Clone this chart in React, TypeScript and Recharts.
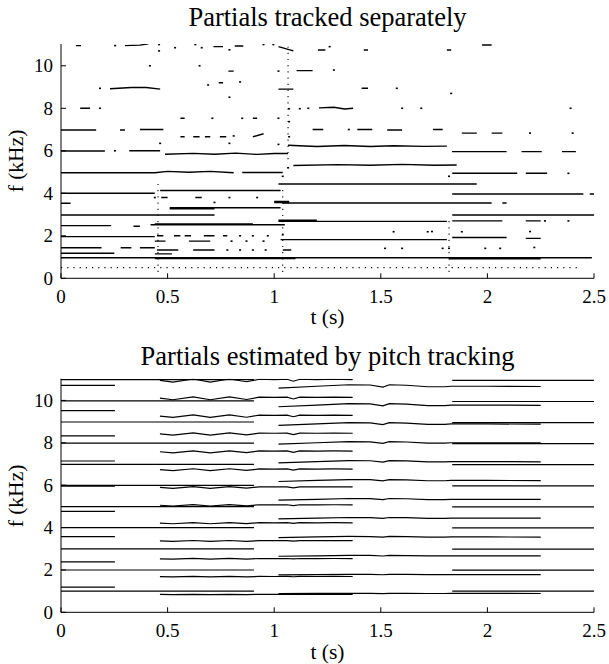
import React from 'react';
import { ComposedChart, Line, Scatter, XAxis, YAxis } from 'recharts';

const timeTicks = [0, 0.5, 1, 1.5, 2, 2.5];
const freqTicks = [0, 2, 4, 6, 8, 10];
const freqMax = 11.025;

// ---- upper panel: partials tracked one by one ----
// flat pieces: [t start (s), t end (s), f (kHz)]
const topFlat: number[][] = [
  [0.07, 0.094, 10.95], [0.715, 0.76, 10.9], [0.815, 0.855, 10.93], [1.205, 1.24, 10.74],
  [1.42, 1.44, 10.74], [1.81, 1.83, 10.74], [1.975, 2.02, 10.98],
  [0.785, 0.81, 9.75], [1.105, 1.18, 9.77], [0.74, 0.76, 9.2], [1.02, 1.09, 8.9], [1.41, 1.44, 8.94],
  [0.09, 0.136, 8.0], [0.56, 0.58, 7.53], [0.9, 0.92, 7.53],
  [0, 0.165, 6.98], [0.277, 0.3, 6.98], [0.37, 0.48, 7.0], [1.18, 1.23, 7.0], [1.39, 1.46, 7.0],
  [1.53, 1.6, 6.98], [1.745, 1.79, 7.0], [1.88, 1.95, 6.83], [2.02, 2.07, 6.83],
  [0.56, 0.58, 6.66], [0.62, 0.65, 6.66], [0.675, 0.7, 6.66], [0.745, 0.775, 6.66],
  [0, 0.206, 5.99], [0.32, 0.465, 6.0], [1.834, 2.09, 5.96], [2.16, 2.255, 5.96], [2.35, 2.415, 5.96],
  [0.85, 1.04, 4.98], [1.835, 2.14, 4.94], [2.18, 2.28, 4.94], [1.02, 1.95, 4.44],
  [0, 0.44, 4.0], [0.465, 1.03, 4.13], [1.835, 2.45, 3.97], [2.48, 2.5, 3.97],
  [0, 0.045, 3.53], [0.47, 0.5, 3.8], [0.63, 0.66, 3.8], [1.0, 1.07, 3.57], [1.0, 1.07, 3.62],
  [1.04, 2.02, 3.54], [2.07, 2.09, 3.54], [0.51, 1.03, 3.32], [0.51, 0.72, 3.27],
  [0, 0.72, 2.98], [1.835, 2.5, 2.98],
  [0, 0.235, 2.48], [0.34, 0.37, 2.45], [0.42, 1.05, 2.52], [0.44, 0.9, 2.56],
  [1.02, 1.81, 2.68], [1.02, 1.2, 2.73], [1.835, 2.07, 2.7], [2.18, 2.25, 2.7],
  [0, 0.44, 1.96], [0.45, 0.48, 2.0], [0.53, 0.56, 2.0], [0.58, 0.61, 2.0], [0.67, 0.72, 2.0], [0.76, 0.78, 2.0],
  [1.835, 2.09, 1.92], [2.18, 2.25, 1.88], [1.03, 1.81, 1.82], [0.44, 0.49, 1.75], [0.6, 0.7, 1.75],
  [0, 0.19, 1.44], [0.28, 0.33, 1.44], [0.37, 0.44, 1.44],
  [0.45, 0.55, 1.33], [0.62, 0.72, 1.33], [1.04, 1.08, 1.33],
  [0, 0.25, 1.18], [0.44, 0.52, 1.15],
  [0, 2.49, 0.97], [0.44, 1.1, 0.93], [1.82, 2.25, 0.92],
];

// pieces that bend: lists of [t, f]
const topCurves: number[][][] = [
  [[0.3, 10.95], [0.37, 10.97], [0.41, 11.03]],
  [[1.02, 10.9], [1.09, 10.7]],
  [[0.23, 8.92], [0.33, 8.98], [0.4, 8.98], [0.465, 8.9]],
  [[1.21, 8.02], [1.28, 8.05], [1.33, 7.97], [1.37, 8.0]],
  [[0.9, 6.66], [0.95, 6.8]],
  [[0.488, 5.84], [0.62, 5.88], [0.72, 5.84], [0.82, 5.89], [0.92, 5.83], [1.0, 5.87], [1.065, 5.87]],
  [[1.065, 6.26], [1.2, 6.2], [1.33, 6.25], [1.45, 6.2], [1.56, 6.24], [1.7, 6.21], [1.81, 6.22]],
  [[1.09, 5.31], [1.3, 5.35], [1.45, 5.32], [1.6, 5.36], [1.75, 5.32], [1.856, 5.33]],
  [[0, 4.97], [0.44, 4.97], [0.5, 5.03], [0.6, 4.99], [0.7, 5.03], [0.81, 4.97]],
];

// single-frame detections: [t, f]
const topDots: number[][] = [
  [0.254, 10.95], [0.46, 11.0], [0.46, 10.7], [0.535, 10.85], [0.63, 11.0], [0.66, 10.85],
  [0.79, 10.75], [0.95, 11.0], [0.996, 11.0], [1.26, 10.9],
  [0.417, 10.0], [0.65, 10.0], [1.02, 9.75], [1.28, 9.8],
  [0.183, 8.94], [0.69, 9.1], [0.84, 9.24], [0.79, 8.52], [1.575, 8.94], [1.83, 8.7],
  [0.183, 8.0], [1.07, 7.98], [1.12, 7.98], [1.16, 8.0], [1.6, 8.0], [1.69, 8.0], [2.39, 8.0],
  [0.71, 7.53], [0.85, 7.53], [1.02, 7.53], [1.07, 7.37], [1.35, 7.0], [2.2, 6.83], [2.4, 6.83],
  [0.81, 6.7], [1.07, 6.66], [0.465, 6.35], [0.79, 6.35], [1.02, 6.3], [0.253, 6.0], [1.065, 5.2],
  [2.38, 4.94], [1.82, 4.8], [1.04, 4.8], [0.72, 3.57], [0.79, 3.8], [0.92, 3.8], [0.44, 3.8],
  [1.56, 2.19], [1.72, 2.19], [1.74, 2.2], [1.88, 2.19], [2.27, 2.7], [2.38, 2.7], [2.2, 2.2],
  [0.84, 2.0], [0.9, 2.0], [0.97, 2.0], [1.04, 2.05], [0.8, 1.75], [0.87, 1.75], [0.95, 1.75],
  [0.78, 1.33], [0.84, 1.33], [0.9, 1.33], [0.96, 1.33],
  [1.52, 1.41], [1.6, 1.41], [1.79, 1.41], [1.82, 1.41], [1.99, 1.41], [2.06, 1.41], [2.22, 1.45],
];

// rows / columns of dots: [t0, f0, t1, f1]
const topDotted: number[][] = [
  [0, 0.5, 2.42, 0.5],
  [1.065, 5.6, 1.065, 10.9],
  [0.455, 0.3, 0.455, 4.6],
  [1.04, 0.3, 1.04, 4.3],
  [1.82, 0.3, 1.82, 2.8],
];

// ---- lower panel: pitch tracks (f0 in kHz) and number of harmonics drawn ----
const aTimes = [0, 0.905];
const aPitch = [0.998, 0.998];
const aCount = 11;

const a2Times = [0, 0.253];
const a2Pitch = [1.19, 1.19];
const a2Count = 9;

const bTimes = [0.464, 0.525, 0.62, 0.7, 0.79, 0.87, 0.93, 1.0, 1.06, 1.09, 1.12, 1.2, 1.28, 1.368];
const bPitch = [0.842, 0.836, 0.847, 0.836, 0.847, 0.837, 0.846, 0.845, 0.846, 0.839, 0.846, 0.845, 0.846, 0.845];
const bCount = 13;

const dTimes = [1.02, 1.2, 1.35, 1.45, 1.51, 1.54, 1.62, 1.72, 1.8, 1.83, 2.0, 2.25];
const dPitch = [0.882, 0.889, 0.895, 0.894, 0.886, 0.895, 0.893, 0.887, 0.887, 0.889, 0.889, 0.888];
const dCount = 12;

const eTimes = [1.835, 2.5];
const ePitch = [0.995, 0.995];
const eCount = 11;

type Pt = { t: number; f: number };
type Piece = { pts: Pt[]; dash?: string };

const topPieces: Piece[] = [
  ...topFlat.map(([t0, t1, f]) => ({ pts: [{ t: t0, f }, { t: t1, f }] })),
  ...topCurves.map((c) => ({ pts: c.map(([t, f]) => ({ t, f })) })),
  ...topDotted.map(([t0, f0, t1, f1]) => ({ pts: [{ t: t0, f: f0 }, { t: t1, f: f1 }], dash: '1.2 5' })),
];

const tracks = [
  { times: aTimes, pitch: aPitch, count: aCount },
  { times: a2Times, pitch: a2Pitch, count: a2Count },
  { times: bTimes, pitch: bPitch, count: bCount },
  { times: dTimes, pitch: dPitch, count: dCount },
  { times: eTimes, pitch: ePitch, count: eCount },
];

const bottomPieces: Piece[] = [];
tracks.forEach((tr) => {
  for (let k = 1; k <= tr.count; k++) {
    bottomPieces.push({ pts: tr.times.map((t, i) => ({ t, f: tr.pitch[i] * k })) });
  }
});

const dotPts: Pt[] = topDots.map(([t, f]) => ({ t, f }));

const FONT = '"Liberation Serif", "Times New Roman", serif';
const W = 609;
const H = 332;

// tick text drawn by hand so the serif face is kept
const TimeTick = (props: any) => (
  <text x={props.x} y={props.y} dy="0.71em" textAnchor="middle" fontFamily={FONT} fontSize={19} fill="#000">
    {props.payload.value}
  </text>
);
const FreqTick = (props: any) => (
  <text x={props.x} y={props.y} dy="0.34em" textAnchor="end" fontFamily={FONT} fontSize={19} fill="#000">
    {props.payload.value}
  </text>
);

interface PanelProps {
  top: number;
  title: string;
  titleBase: number;
  labelBase: number;
  plotTop: number;
  plotBottom: number;
  pieces: Piece[];
  dots?: Pt[];
  width: number;
}

const Panel: React.FC<PanelProps> = ({ top, title, titleBase, labelBase, plotTop, plotBottom, pieces, dots, width }) => {
  const xAxisH = 30;
  const yMid = (plotTop + plotBottom) / 2;
  return (
    <div style={{ position: 'absolute', left: 0, top, width: W, height: H }}>
      <div style={{ position: 'absolute', left: 0, width: 655, top: titleBase - 0.84 * 26.5, fontSize: 26.5, lineHeight: 1, textAlign: 'center', whiteSpace: 'nowrap' }}>
        {title}
      </div>
      <div style={{ position: 'absolute', left: 0, width: 655, top: labelBase - 0.84 * 21.5, fontSize: 21.5, lineHeight: 1, textAlign: 'center' }}>
        t (s)
      </div>
      <div style={{ position: 'absolute', left: 17, top: yMid, fontSize: 21.5, lineHeight: 1, whiteSpace: 'nowrap', transform: 'translate(-50%, -50%) rotate(-90deg)' }}>
        f (kHz)
      </div>
      <div style={{ position: 'absolute', left: 0, top: 0 }}>
        <ComposedChart
          width={W}
          height={H}
          margin={{ top: plotTop, right: 15, left: 11, bottom: H - plotBottom - xAxisH }}
        >
          <XAxis
            type="number"
            dataKey="t"
            domain={[0, 2.5]}
            ticks={timeTicks}
            allowDataOverflow
            height={xAxisH}
            tickSize={-5}
            tickMargin={16}
            stroke="#000"
            tick={<TimeTick />}
          />
          <YAxis
            type="number"
            dataKey="f"
            domain={[0, freqMax]}
            ticks={freqTicks}
            allowDataOverflow
            width={50}
            tickSize={-5}
            tickMargin={13}
            stroke="#000"
            tick={<FreqTick />}
          />
          {pieces.map((p, i) => (
            <Line
              key={i}
              data={p.pts}
              dataKey="f"
              type="linear"
              stroke="#000"
              strokeWidth={p.dash ? 1.1 : width}
              strokeDasharray={p.dash}
              dot={false}
              activeDot={false}
              legendType="none"
              isAnimationActive={false}
            />
          ))}
          {dots && (
            <Scatter
              data={dots}
              dataKey="f"
              isAnimationActive={false}
              shape={(s: any) => <rect x={s.cx - 1} y={s.cy - 0.8} width={2} height={1.6} fill="#000" />}
            />
          )}
        </ComposedChart>
      </div>
    </div>
  );
};

export default function App() {
  return (
    <div style={{ position: 'absolute', left: 0, top: 0, width: W, height: 664, background: '#fff', color: '#000', fontFamily: FONT }}>
      <Panel
        top={0}
        title="Partials tracked separately"
        titleBase={26}
        labelBase={325}
        plotTop={44}
        plotBottom={278.3}
        pieces={topPieces}
        dots={dotPts}
        width={1.4}
      />
      <Panel
        top={332}
        title="Partials estimated by pitch tracking"
        titleBase={33}
        labelBase={328}
        plotTop={46.7}
        plotBottom={280.3}
        pieces={bottomPieces}
        width={1.2}
      />
    </div>
  );
}
